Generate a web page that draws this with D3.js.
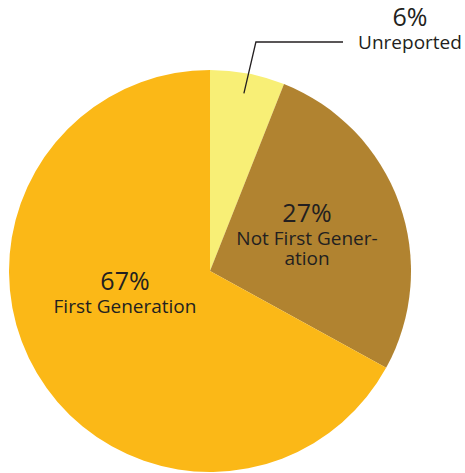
<!DOCTYPE html>
<html>
<head>
<meta charset="utf-8">
<script src="https://cdn.jsdelivr.net/npm/d3@7"></script>
<style>
  body { margin: 0; background: #fff; }
  text { font-family: "Open Sans", "Noto Sans", sans-serif; fill: #231f20; }
</style>
</head>
<body>
<script>
// chart data
var categories = ["Unreported", "Not First Generation", "First Generation"]
var values = [6, 27, 67]
var colors = ["#F8EF76", "#B18330", "#FBB817"]

var width = 465, height = 473
var cx = 210, cy = 271, radius = 201

var svg = d3.select("body").append("svg")
  .attr("width", width)
  .attr("height", height)

var g = svg.append("g")
  .attr("transform", "translate(" + cx + "," + cy + ")")

// keep data order, clockwise from 12 o'clock
var pie = d3.pie().sort(null).value(d => d.value)
var arc = d3.arc().innerRadius(0).outerRadius(radius)

var data = pie(categories.map((c, i) => ({name: c, value: values[i], color: colors[i]})))

g.selectAll("path.slice")
  .data(data)
  .enter().append("path")
  .attr("class", "slice")
  .attr("d", arc)
  .attr("fill", d => d.data.color)

// label placement: inside for big slices, leader line for the small one
var pctSize = 25, lblSize = 19

function addLabel(x, y, lines) {
  var t = svg.append("text").attr("text-anchor", "middle")
  t.append("tspan").attr("x", x).attr("y", y)
    .style("font-size", pctSize + "px").text(lines[0])
  for (var i = 1; i < lines.length; i++) {
    t.append("tspan").attr("x", x).attr("dy", i == 1 ? 23 : 20)
      .style("font-size", lblSize + "px").text(lines[i])
  }
}

// Unreported: leader line out of the slice
var small = data[0]
var inner = d3.arc().innerRadius(radius * 0.9).outerRadius(radius * 0.9).centroid(small)
svg.append("polyline")
  .attr("points", [
    [cx + inner[0], cy + inner[1]],
    [cx + inner[0] + 12, 42],
    [343, 42]
  ].map(p => p.join(",")).join(" "))
  .attr("fill", "none")
  .attr("stroke", "#231f20")
  .attr("stroke-width", 1.3)

addLabel(410, 26, [values[0] + "%", categories[0]])
addLabel(307, 222, [values[1] + "%", "Not First Gener-", "ation"])
addLabel(125, 290, [values[2] + "%", categories[2]])
</script>
</body>
</html>
